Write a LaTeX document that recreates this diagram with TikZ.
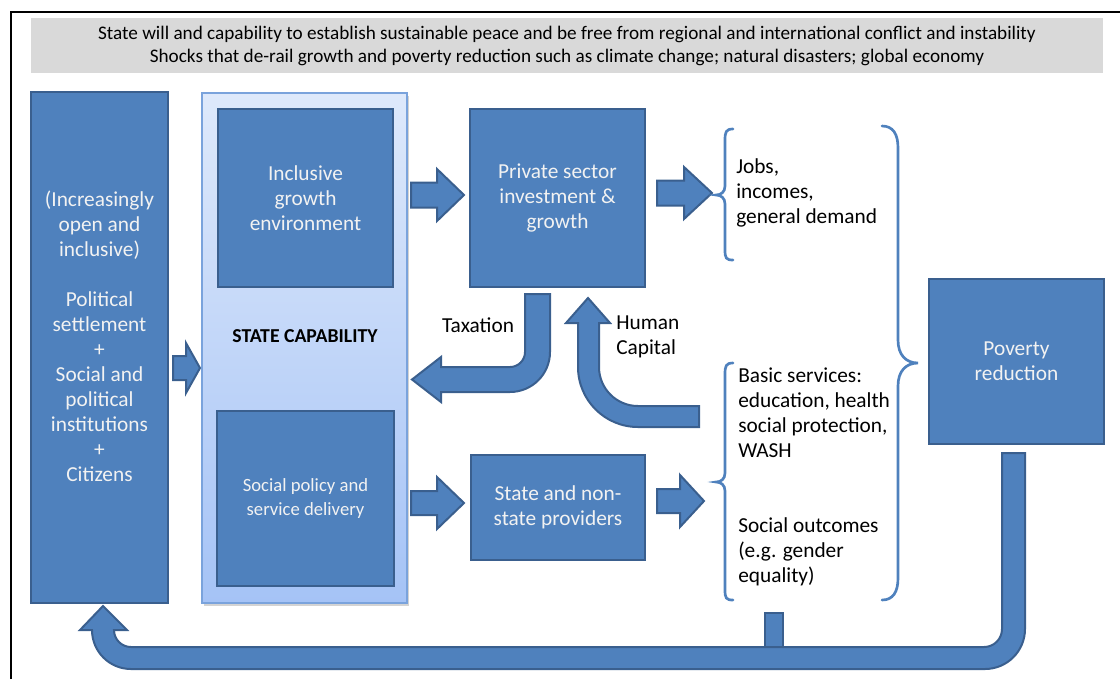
\documentclass[tikz,border=0pt]{standalone}
\usepackage{fontspec}
\setmainfont{Carlito}
\usetikzlibrary{shadows}
\definecolor{boxfill}{HTML}{4F81BD}
\definecolor{boxline}{HTML}{3A5F8E}
\definecolor{bracecol}{HTML}{4F81BD}
\definecolor{bannergray}{HTML}{D9D9D9}
\definecolor{capTop}{HTML}{DEE9FB}
\definecolor{capBot}{HTML}{A5C3F6}
\definecolor{capLine}{HTML}{7AA3DC}
% lengths given in pixels of the layout grid (1px = 0.75pt)
\newcommand\pxl[1]{#1*0.75pt}
% right-pointing block arrow: start x, head x, tip x, centre y, shaft half-height, head half-height
\newcommand\rarrow[6]{%
  \draw[shape arrow] ({#1},{#4-#5}) -- ({#2},{#4-#5}) -- ({#2},{#4-#6}) -- ({#3},{#4})
    -- ({#2},{#4+#6}) -- ({#2},{#4+#5}) -- ({#1},{#4+#5}) -- cycle;}
\begin{document}
\begin{tikzpicture}[x=0.75pt,y=-0.75pt,
  box/.style={draw=boxline, fill=boxfill, line width=1.9pt, inner sep=0pt, outer sep=0pt,
    text=white!95!black, align=center, font=\fontsize{16}{18.75}\selectfont},
  shape arrow/.style={draw=boxline, fill=boxfill, line width=1.5pt, line join=miter},
  brace/.style={draw=bracecol, line width=2pt, line cap=round},
  plain/.style={align=left, font=\fontsize{16}{18.75}\selectfont, inner sep=0pt},
]
\useasboundingbox (0,0) rectangle (1120,679);

% frame
\draw[line width=1.1pt] (11,679) -- (11,12) -- (1120,12);

% banner
\node[fill=bannergray, minimum width=\pxl{1072}, minimum height=\pxl{55}, inner sep=0pt,
  align=center, font=\fontsize{14.4}{17.25}\selectfont] (banner) at (567,45.5)
  {State will and capability to establish sustainable peace and be free from regional and international conflict and instability\\
   Shocks that de-rail growth and poverty reduction such as climate change; natural disasters; global economy};

% left column
\node[box, minimum width=\pxl{137}, minimum height=\pxl{511}] (pol) at (99.5,347.5) {};
\node[plain, align=center, text=white!95!black] (poltext) at (99.5,336)
  {(Increasingly\\open and\\inclusive)\\[18.75pt]Political\\settlement\\+\\Social and\\political\\institutions\\+\\Citizens};

% state capability container
\node[draw=capLine, line width=0.8pt, top color=capTop, bottom color=capBot,
  minimum width=\pxl{205}, minimum height=\pxl{510}, inner sep=0pt,
  drop shadow={opacity=0.35, shadow xshift=1.5pt, shadow yshift=-2.5pt}] (cap) at (304.5,348) {};
\node[font=\bfseries\fontsize{14.8}{17}\selectfont] (caplabel) at (305,336) {STATE CAPABILITY};

\node[box, minimum width=\pxl{175}, minimum height=\pxl{178}] (ige) at (305.5,198)
  {Inclusive\\growth\\environment};
\node[box, minimum width=\pxl{177}, minimum height=\pxl{175}, font=\fontsize{14}{18}\selectfont] (spd) at (305.5,498.5)
  {Social policy and\\service delivery};

% middle column
\node[box, minimum width=\pxl{175}, minimum height=\pxl{178}] (pse) at (557.5,198)
  {Private sector\\investment \&\\growth};
\node[box, minimum width=\pxl{174}, minimum height=\pxl{105}] (prov) at (558,507.5)
  {State and non-\\state providers};

% poverty reduction
\node[box, minimum width=\pxl{175}, minimum height=\pxl{165}] (pov) at (1016.5,361.5)
  {Poverty\\reduction};

% outcome texts
\node[plain, anchor=west] (jobs) at (736,193) {Jobs,\\incomes,\\general demand};
\node[plain, anchor=west] (basic) at (738,413) {Basic services:\\education, health\\social protection,\\WASH};
\node[plain, anchor=west] (social) at (738,552) {Social outcomes\\(e.g. gender\\equality)};

% straight block arrows
\rarrow{173}{186}{200}{368}{12}{25}
\rarrow{411}{437}{464}{195}{12.5}{26}
\rarrow{657}{684}{712}{193}{12.5}{26}
\rarrow{411}{437}{464}{503}{12}{26}
\rarrow{657}{680}{704}{501}{12}{26}

% taxation: down from private sector, bending left into state capability
\draw[shape arrow] (525,294) -- (550,294) -- (550,352) arc[start angle=0, end angle=90, radius=40]
  -- (441,392) -- (441,402) -- (412,379.5) -- (441,357) -- (441,367) -- (510,367)
  arc[start angle=90, end angle=0, radius=15] -- cycle;
\node[plain] (tax) at (478,325) {Taxation};

% human capital: from the services side, bending up into private sector
\draw[shape arrow] (699,406) -- (638,406) arc[start angle=90, end angle=180, radius=39]
  -- (599,323) -- (610,323) -- (588,298) -- (566,323) -- (578,323) -- (578,367)
  arc[start angle=180, end angle=90, radius=60] -- (699,427) -- cycle;
\node[plain, anchor=west] (hc) at (616,337) {Human\\Capital};

% braces
\draw[brace] (733,129) .. controls (726,129) and (725,132) .. (725,140) -- (725,186)
  .. controls (725,192) and (721,195) .. (716,195) .. controls (721,195) and (725,198) .. (725,204)
  -- (725,250) .. controls (725,258) and (726,260) .. (733,260);
\draw[brace] (733,363) .. controls (726,363) and (725,366) .. (725,374) -- (725,473)
  .. controls (725,479) and (721,482) .. (716,482) .. controls (721,482) and (725,485) .. (725,491)
  -- (725,590) .. controls (725,598) and (726,600) .. (733,600);
\draw[brace] (882,126) .. controls (893,126) and (898,134) .. (898,148) -- (898,340)
  .. controls (898,355) and (906,363) .. (918,363) .. controls (906,363) and (898,371) .. (898,386)
  -- (898,578) .. controls (898,592) and (893,600) .. (882,600);

% feedback loop back to the political settlement
\draw[shape arrow] (765,613) rectangle (783,650);
\draw[shape arrow] (1002,453) -- (1025,453) -- (1025,629) arc[start angle=0, end angle=90, radius=40]
  -- (131,669) arc[start angle=90, end angle=180, radius=39]
  -- (92,630) -- (80,630) -- (103,606) -- (127,630) -- (114,630)
  arc[start angle=180, end angle=90, radius=17]
  -- (984,647) arc[start angle=90, end angle=0, radius=18] -- cycle;
\end{tikzpicture}
\end{document}
